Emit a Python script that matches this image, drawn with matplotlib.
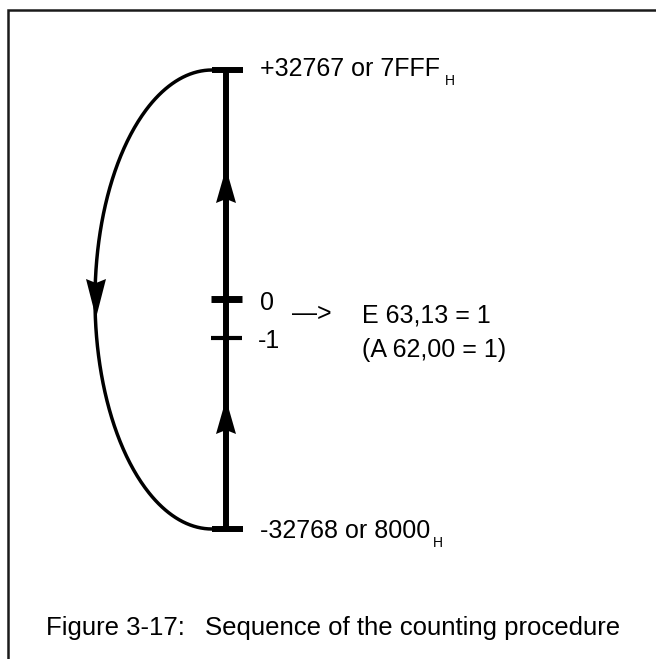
import matplotlib.pyplot as plt
import numpy as np
from matplotlib.patches import Polygon

# texts of the diagram
top_label = '+32767 or 7FFF'
bottom_label = '-32768 or 8000'
hex_sub = 'H'
zero_label = '0'
minus_label = '-1'
pointer = '\u2014>'
result_lines = ['E 63,13 = 1', '(A 62,00 = 1)']
caption_num = 'Figure 3-17:'
caption_text = 'Sequence of the counting procedure'

plt.rcParams['font.family'] = ['Liberation Sans', 'DejaVu Sans']

fig = plt.figure(figsize=(6.56, 6.59), dpi=100)
ax = fig.add_axes([0, 0, 1, 1])
ax.set_xlim(0, 656)
ax.set_ylim(659, 0)   # pixel coords, y down
ax.axis('off')

# frame (only left and top edges are visible)
ax.plot([7.5, 7.5, 660], [665, 9.5, 9.5], color='#1a1a1a', lw=1.8,
        solid_joinstyle='miter')

# counter scale
bar_x = 226
y_top, y_bot = 70, 529
y_zero, y_minus = 299, 338
ax.plot([bar_x, bar_x], [y_top, y_bot], color='k', lw=4.3, solid_capstyle='butt')
for y in (y_top, y_bot):
    ax.plot([211.5, 242.5], [y, y], color='k', lw=4.3, solid_capstyle='butt')
ax.plot([211, 242], [y_zero, y_zero], color='k', lw=5, solid_capstyle='butt')
ax.plot([211, 242], [y_minus, y_minus], color='k', lw=3, solid_capstyle='butt')

# overflow loop: left half of an ellipse from top cap to bottom cap
cx, cy = 212, (y_top + y_bot) / 2
a, b = 117, (y_bot - y_top) / 2
t = np.linspace(np.pi / 2, 3 * np.pi / 2, 300)
ax.plot(cx + a * np.cos(t), cy - b * np.sin(t), color='k', lw=2.5)


def arrow_head(x, tip, base, hw=10, notch=4):
    d = 1 if base > tip else -1
    pts = [(x, tip), (x - hw, base), (x, base - d * notch), (x + hw, base)]
    ax.add_patch(Polygon(pts, closed=True, color='k', lw=0))


arrow_head(bar_x, 168, 203)
arrow_head(bar_x, 399, 434)
arrow_head(96, 318, 279)

fs = 18
kw = dict(fontsize=fs, va='baseline', ha='left', color='k')
t1 = ax.text(260, 76, top_label, **kw)
ax.annotate(hex_sub, xy=(1, 0), xycoords=t1, xytext=(5, -4),
            textcoords='offset pixels', fontsize=10, va='baseline')
t2 = ax.text(260, 538, bottom_label, **kw)
ax.annotate(hex_sub, xy=(1, 0), xycoords=t2, xytext=(3, -4),
            textcoords='offset pixels', fontsize=10, va='baseline')

ax.text(260, 310, zero_label, **kw)
ax.text(258, 348, minus_label, **kw)
ax.text(292, 321, pointer, **kw)
ax.text(362, 322, result_lines[0], **kw)
ax.text(362, 357, result_lines[1], **kw)

ax.text(46, 635, caption_num, fontsize=18.5, va='baseline')
ax.text(205, 635, caption_text, fontsize=18.5, va='baseline')

fig.savefig('out.png', dpi=100)
